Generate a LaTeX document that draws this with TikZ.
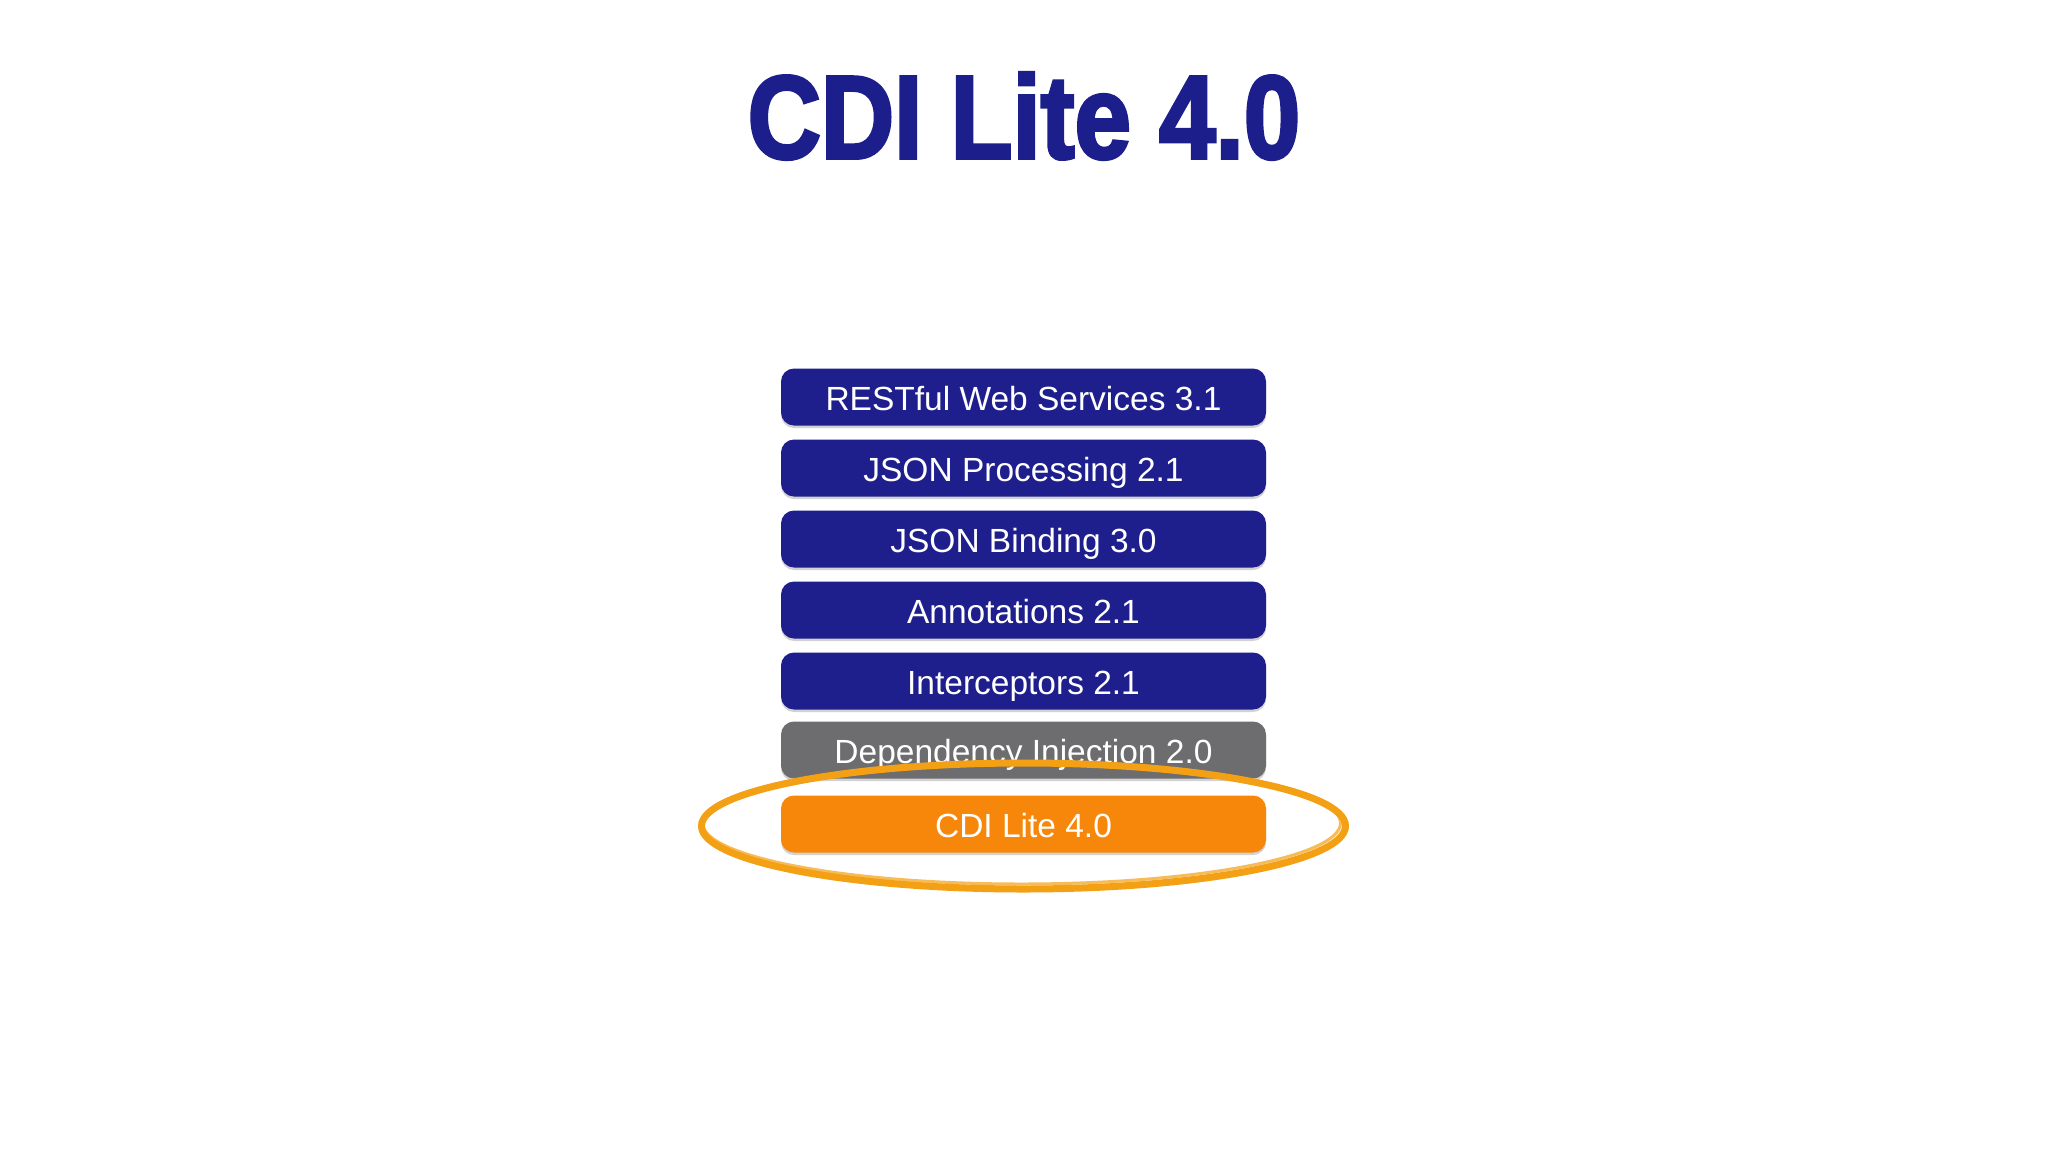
\documentclass[tikz,border=0pt]{standalone}
\usepackage{fontspec}
\setmainfont{Liberation Sans}
\newfontfamily\titlefont[FakeBold=3]{Liberation Sans Bold}
\usetikzlibrary{shadows}
\definecolor{titleblue}{HTML}{1C1F8B}
\definecolor{boxblue}{HTML}{1E1F8D}
\definecolor{boxgray}{HTML}{6D6D70}
\definecolor{boxorange}{HTML}{F7870A}
\definecolor{brush}{HTML}{F4A015}
\tikzset{
  layer/.style={rounded corners=13pt, minimum width=485pt, minimum height=57pt,
    inner sep=0pt, text=white, font=\fontsize{33.5}{38}\selectfont,
    text height=26pt, text depth=0pt,
    drop shadow={opacity=0.35, shadow xshift=0pt, shadow yshift=-2.5pt}},
  bluelayer/.style={layer, fill=boxblue},
  graylayer/.style={layer, fill=boxgray},
  orangelayer/.style={layer, fill=boxorange},
  brushline/.style={draw=brush, line width=7pt, line cap=round}
}
\begin{document}
\begin{tikzpicture}[x=1pt,y=-1pt]
\useasboundingbox[fill=white] (0,0) rectangle (2048,1152);
\node[text=titleblue, inner sep=0pt] (title) at (1024,116)
  {\scalebox{0.86}[1]{\titlefont\fontsize{118}{128}\selectfont CDI Lite 4.0}};
\node[bluelayer] (rest) at (1023.5,397) {RESTful Web Services 3.1};
\node[bluelayer] (jsonp) at (1023.5,468) {JSON Processing 2.1};
\node[bluelayer] (jsonb) at (1023.5,539) {JSON Binding 3.0};
\node[bluelayer] (annot) at (1023.5,610) {Annotations 2.1};
\node[bluelayer] (inter) at (1023.5,681) {Interceptors 2.1};
\node[graylayer] (di) at (1023.5,750) {Dependency Injection 2.0};
\node[orangelayer] (cdi) at (1023.5,824) {CDI Lite 4.0};
\draw[brushline] (cdi.center) ++(0,2) ellipse [x radius=322pt, y radius=63pt];
\draw[draw=brush, line width=3pt, opacity=0.7] (cdi.center) ++(-2,-1) ellipse [x radius=319pt, y radius=61pt];
\end{tikzpicture}
\end{document}
